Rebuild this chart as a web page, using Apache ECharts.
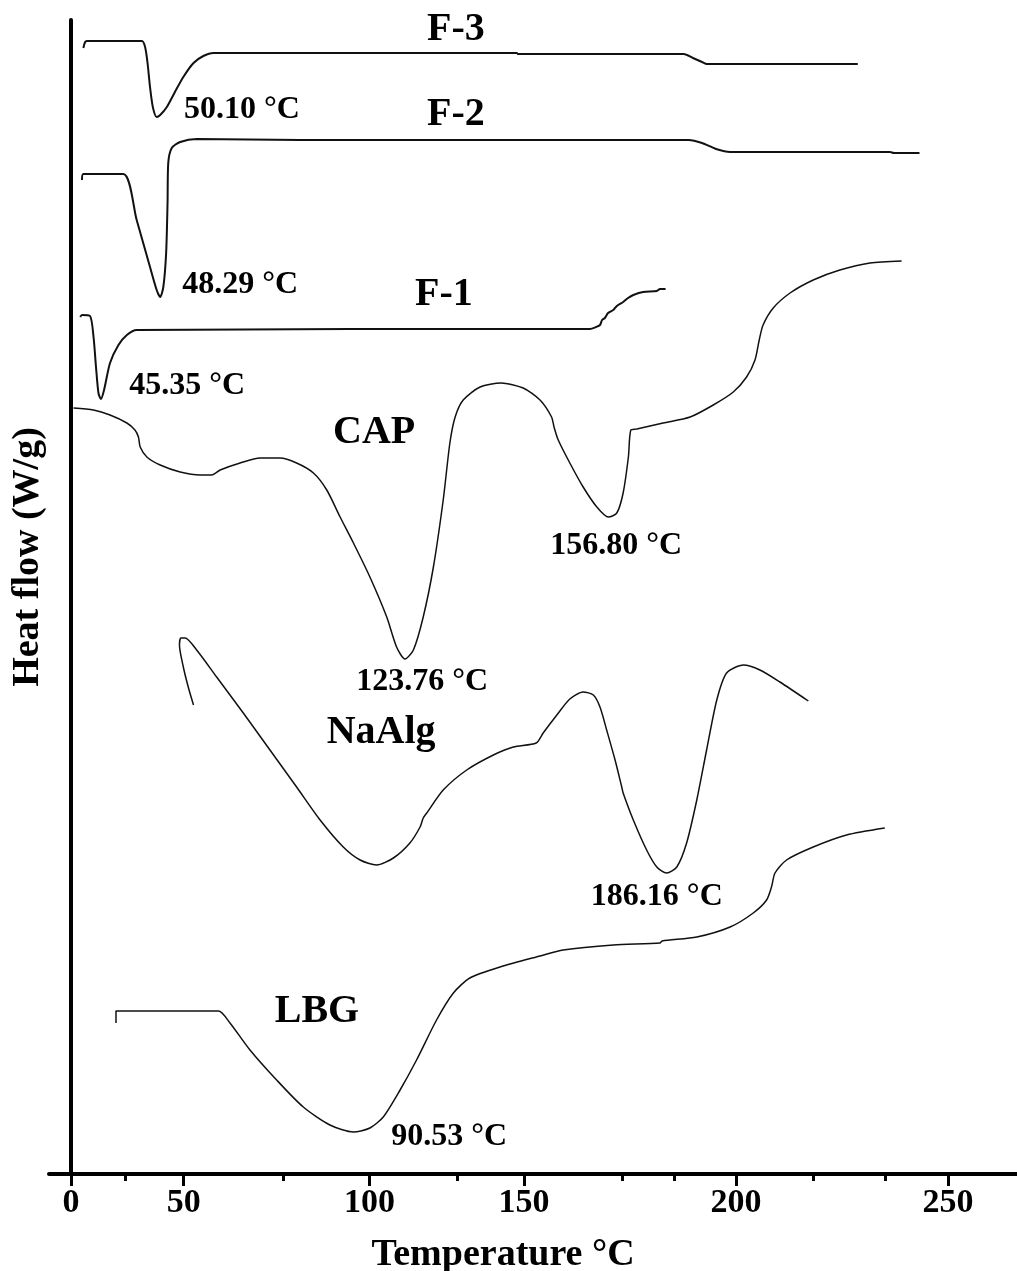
<!DOCTYPE html>
<html>
<head>
<meta charset="utf-8">
<script src="https://cdn.jsdelivr.net/npm/echarts@6/dist/echarts.min.js"></script>
<style>
html,body{margin:0;padding:0;background:#fff;}
#chart{width:1017px;height:1271px;}
</style>
</head>
<body>
<div id="chart"></div>
<script>
// Axis tick positions (in axis units) and the labels printed there
const majorTickPos = [0, 32.1, 85.1, 129.1, 189.6, 250.0];
const majorTickLabels = ['0', '50', '100', '150', '200', '250'];
const minorTickPos = [15.4, 60.5, 110.1, 157.2, 172.0, 211.7, 232.1];

// DSC curves: [temperature (axis units), heat flow (offset, arbitrary units)]
const F3 = [[3.5,112.6],[4.0,113.2],[4.5,113.3],[20.2,113.3],[21.1,112.7],[21.8,111.1],[22.5,108.7],[23.3,106.7],[24.4,105.7],[25.4,105.9],[27.3,106.7],[29.6,108.2],[32.0,109.7],[34.9,111.1],[37.7,111.8],[40.6,112.1],[127.1,112.1],[127.4,112.0],[174.7,112.0],[177.3,111.6],[179.9,111.2],[181.3,111.0],[224.3,111.0]];
const F2 = [[3.1,99.4],[3.5,100.0],[14.9,100.0],[18.7,95.4],[22.5,90.7],[24.4,88.4],[25.4,87.7],[26.3,88.7],[27.1,92.1],[27.5,97.1],[27.7,101.1],[28.7,102.6],[31.1,103.2],[35.8,103.5],[65.3,103.4],[176.1,103.4],[179.9,103.1],[183.9,102.5],[187.9,102.2],[233.5,102.2],[234.6,102.1],[238.2,102.1],[241.9,102.1]];
const F1 = [[2.6,85.7],[3.1,85.9],[5.4,85.8],[6.4,83.7],[7.1,80.7],[7.8,78.1],[8.5,77.5],[9.4,78.4],[11.1,81.1],[13.5,82.9],[15.9,83.9],[18.7,84.4],[140.3,84.5],[147.9,84.5],[149.7,84.7],[150.8,84.9],[151.4,85.4],[152.2,85.6],[153.1,86.1],[154.6,86.4],[155.6,86.8],[157.4,87.2],[158.8,87.6],[160.3,87.9],[163.1,88.2],[167.0,88.3],[167.9,88.5],[169.5,88.5]];
const CAP = [[0.7,76.6],[6.4,76.4],[11.1,75.9],[15.9,75.1],[18.2,74.4],[19.2,73.7],[19.7,72.7],[21.6,71.7],[25.4,70.9],[31.1,70.2],[36.8,69.9],[40.1,69.9],[42.5,70.4],[48.2,71.1],[53.9,71.6],[59.6,71.6],[64.3,71.1],[69.1,70.1],[72.9,68.4],[76.7,65.7],[80.5,63.1],[85.2,59.7],[90.0,55.7],[92.8,52.7],[95.2,51.5],[97.6,52.4],[100.4,55.7],[103.3,60.7],[106.1,67.4],[108.0,73.1],[109.5,75.7],[111.8,77.4],[116.6,78.7],[122.6,79.1],[128.9,78.6],[133.7,77.4],[137.0,75.7],[137.7,74.7],[138.9,73.4],[142.2,71.1],[146.0,68.7],[149.9,66.7],[153.2,65.7],[155.6,66.1],[157.4,68.1],[158.9,71.7],[159.6,74.4],[161.3,74.5],[168.8,75.1],[176.5,75.7],[183.1,76.9],[188.8,78.2],[192.6,79.7],[195.0,81.4],[196.2,83.4],[197.3,84.9],[200.2,86.6],[205.0,88.1],[211.6,89.4],[219.2,90.4],[227.8,91.1],[236.8,91.3]];
const NaAlg = [[34.9,46.9],[33.4,48.7],[32.0,50.7],[30.9,52.9],[31.3,53.6],[32.5,53.6],[35.8,52.4],[41.5,49.7],[49.1,46.1],[56.7,42.4],[64.3,38.7],[71.0,35.4],[77.6,32.7],[82.4,31.4],[87.1,30.9],[91.9,31.6],[96.6,33.1],[99.5,34.7],[100.4,35.6],[101.4,36.1],[106.1,38.4],[112.8,40.4],[120.4,41.9],[126.1,42.7],[132.6,43.1],[134.6,44.1],[138.5,45.9],[142.2,47.5],[146.0,48.2],[148.9,47.9],[150.8,46.7],[152.7,44.4],[155.1,41.4],[157.0,38.7],[157.4,38.1],[160.3,35.4],[164.1,32.4],[167.0,30.7],[169.8,30.1],[172.7,30.7],[175.5,33.1],[178.4,37.4],[181.2,42.4],[184.1,47.4],[186.9,50.1],[191.7,50.9],[196.4,50.4],[202.1,49.2],[210.2,47.3]];
const LBG = [[12.8,15.1],[12.8,16.3],[42.0,16.3],[45.3,15.1],[51.0,12.4],[58.6,9.4],[66.2,6.7],[73.8,4.9],[80.5,4.2],[85.2,4.6],[89.0,5.7],[93.8,8.4],[98.5,11.4],[104.2,15.4],[109.0,18.1],[113.7,19.6],[122.3,20.7],[133.7,21.8],[140.3,22.4],[154.6,22.9],[167.9,23.1],[168.5,23.3],[178.4,23.7],[187.9,24.7],[194.5,26.1],[198.3,27.4],[199.7,28.7],[200.7,30.1],[204.0,31.4],[211.6,32.7],[221.1,33.9],[232.0,34.6]];

// Curve names and where they are written
const nameTexts = ['F-3', 'F-2', 'F-1', 'CAP', 'NaAlg', 'LBG'];
const nameX = [109.7, 109.7, 106.3, 86.4, 88.4, 70.1];
const nameY = [114.4, 105.9, 87.9, 74.1, 44.1, 16.2];

// Peak temperature annotations
const peakTexts = ['50.10 °C', '48.29 °C', '45.35 °C', '123.76 °C', '156.80 °C', '186.16 °C', '90.53 °C'];
const peakX = [48.7, 48.2, 33.1, 100.1, 155.4, 167.0, 107.8];
const peakY = [106.4, 88.9, 78.8, 49.2, 62.8, 27.7, 3.7];

const FONT = '"Liberation Serif", "Times New Roman", serif';
const chart = echarts.init(document.getElementById('chart'), null, {renderer: 'canvas'});

function lineSeries(name, data, width) {
  return {
    name: name, type: 'line', data: data, showSymbol: false, symbol: 'none',
    smooth: 0.25, xAxisIndex: 0, yAxisIndex: 0,
    lineStyle: {color: '#111', width: width}
  };
}
function textSeries(texts, xs, ys, size) {
  return {
    type: 'custom', xAxisIndex: 0, yAxisIndex: 0, silent: true, clip: false,
    data: texts.map((t, i) => [xs[i], ys[i]]),
    encode: {x: 0, y: 1},
    renderItem: function (params, api) {
      const p = api.coord([api.value(0), api.value(1)]);
      return {
        type: 'text', x: p[0], y: p[1],
        style: {text: texts[params.dataIndex], fill: '#000',
          fontFamily: FONT, fontWeight: 'bold', fontSize: size,
          align: 'center', verticalAlign: 'middle'}
      };
    }
  };
}

chart.setOption({
  animation: false,
  backgroundColor: '#fff',
  grid: {left: 49, right: 0, top: 20, bottom: 97, containLabel: false, outerBoundsMode: 'none'},
  xAxis: [{
    type: 'value', min: -6.3, max: 269.7, position: 'bottom',
    axisLine: {show: true, onZero: false, lineStyle: {color: '#000', width: 4}},
    axisTick: {show: true, customValues: majorTickPos, length: 12, lineStyle: {color: '#000', width: 3}},
    axisLabel: {show: true, customValues: majorTickPos, margin: 12,
      formatter: function (v) {
        let best = 0;
        for (let i = 1; i < majorTickPos.length; i++) {
          if (Math.abs(majorTickPos[i] - v) < Math.abs(majorTickPos[best] - v)) best = i;
        }
        return majorTickLabels[best];
      },
      fontFamily: FONT, fontWeight: 'bold', fontSize: 34, color: '#000'},
    splitLine: {show: false},
    name: 'Temperature °C', nameLocation: 'middle', nameGap: 62,
    nameTextStyle: {fontFamily: FONT, fontWeight: 'bold', fontSize: 38, color: '#000', padding: [0, 60, 0, 0]}
  }, {
    type: 'value', min: -6.3, max: 269.7, position: 'bottom',
    axisLine: {show: false},
    axisTick: {show: true, customValues: minorTickPos, length: 7, lineStyle: {color: '#000', width: 3}},
    axisLabel: {show: false},
    splitLine: {show: false}
  }],
  yAxis: [{
    type: 'value', min: 0, max: 115.4,
    axisLine: {show: true, onZero: true, onZeroAxisIndex: 0, lineStyle: {color: '#000', width: 4}},
    axisTick: {show: false}, axisLabel: {show: false}, splitLine: {show: false},
    name: 'Heat flow (W/g)', nameLocation: 'middle', nameRotate: 90, nameGap: 2,
    nameTextStyle: {fontFamily: FONT, fontWeight: 'bold', fontSize: 38, color: '#000', padding: [0, 0, 0, 80]}
  }],
  series: [
    lineSeries('F-3', F3, 2),
    lineSeries('F-2', F2, 2),
    lineSeries('F-1', F1, 2),
    lineSeries('CAP', CAP, 1.5),
    lineSeries('NaAlg', NaAlg, 1.5),
    lineSeries('LBG', LBG, 1.5),
    textSeries(nameTexts, nameX, nameY, 40),
    textSeries(peakTexts, peakX, peakY, 32)
  ]
});
</script>
</body>
</html>
